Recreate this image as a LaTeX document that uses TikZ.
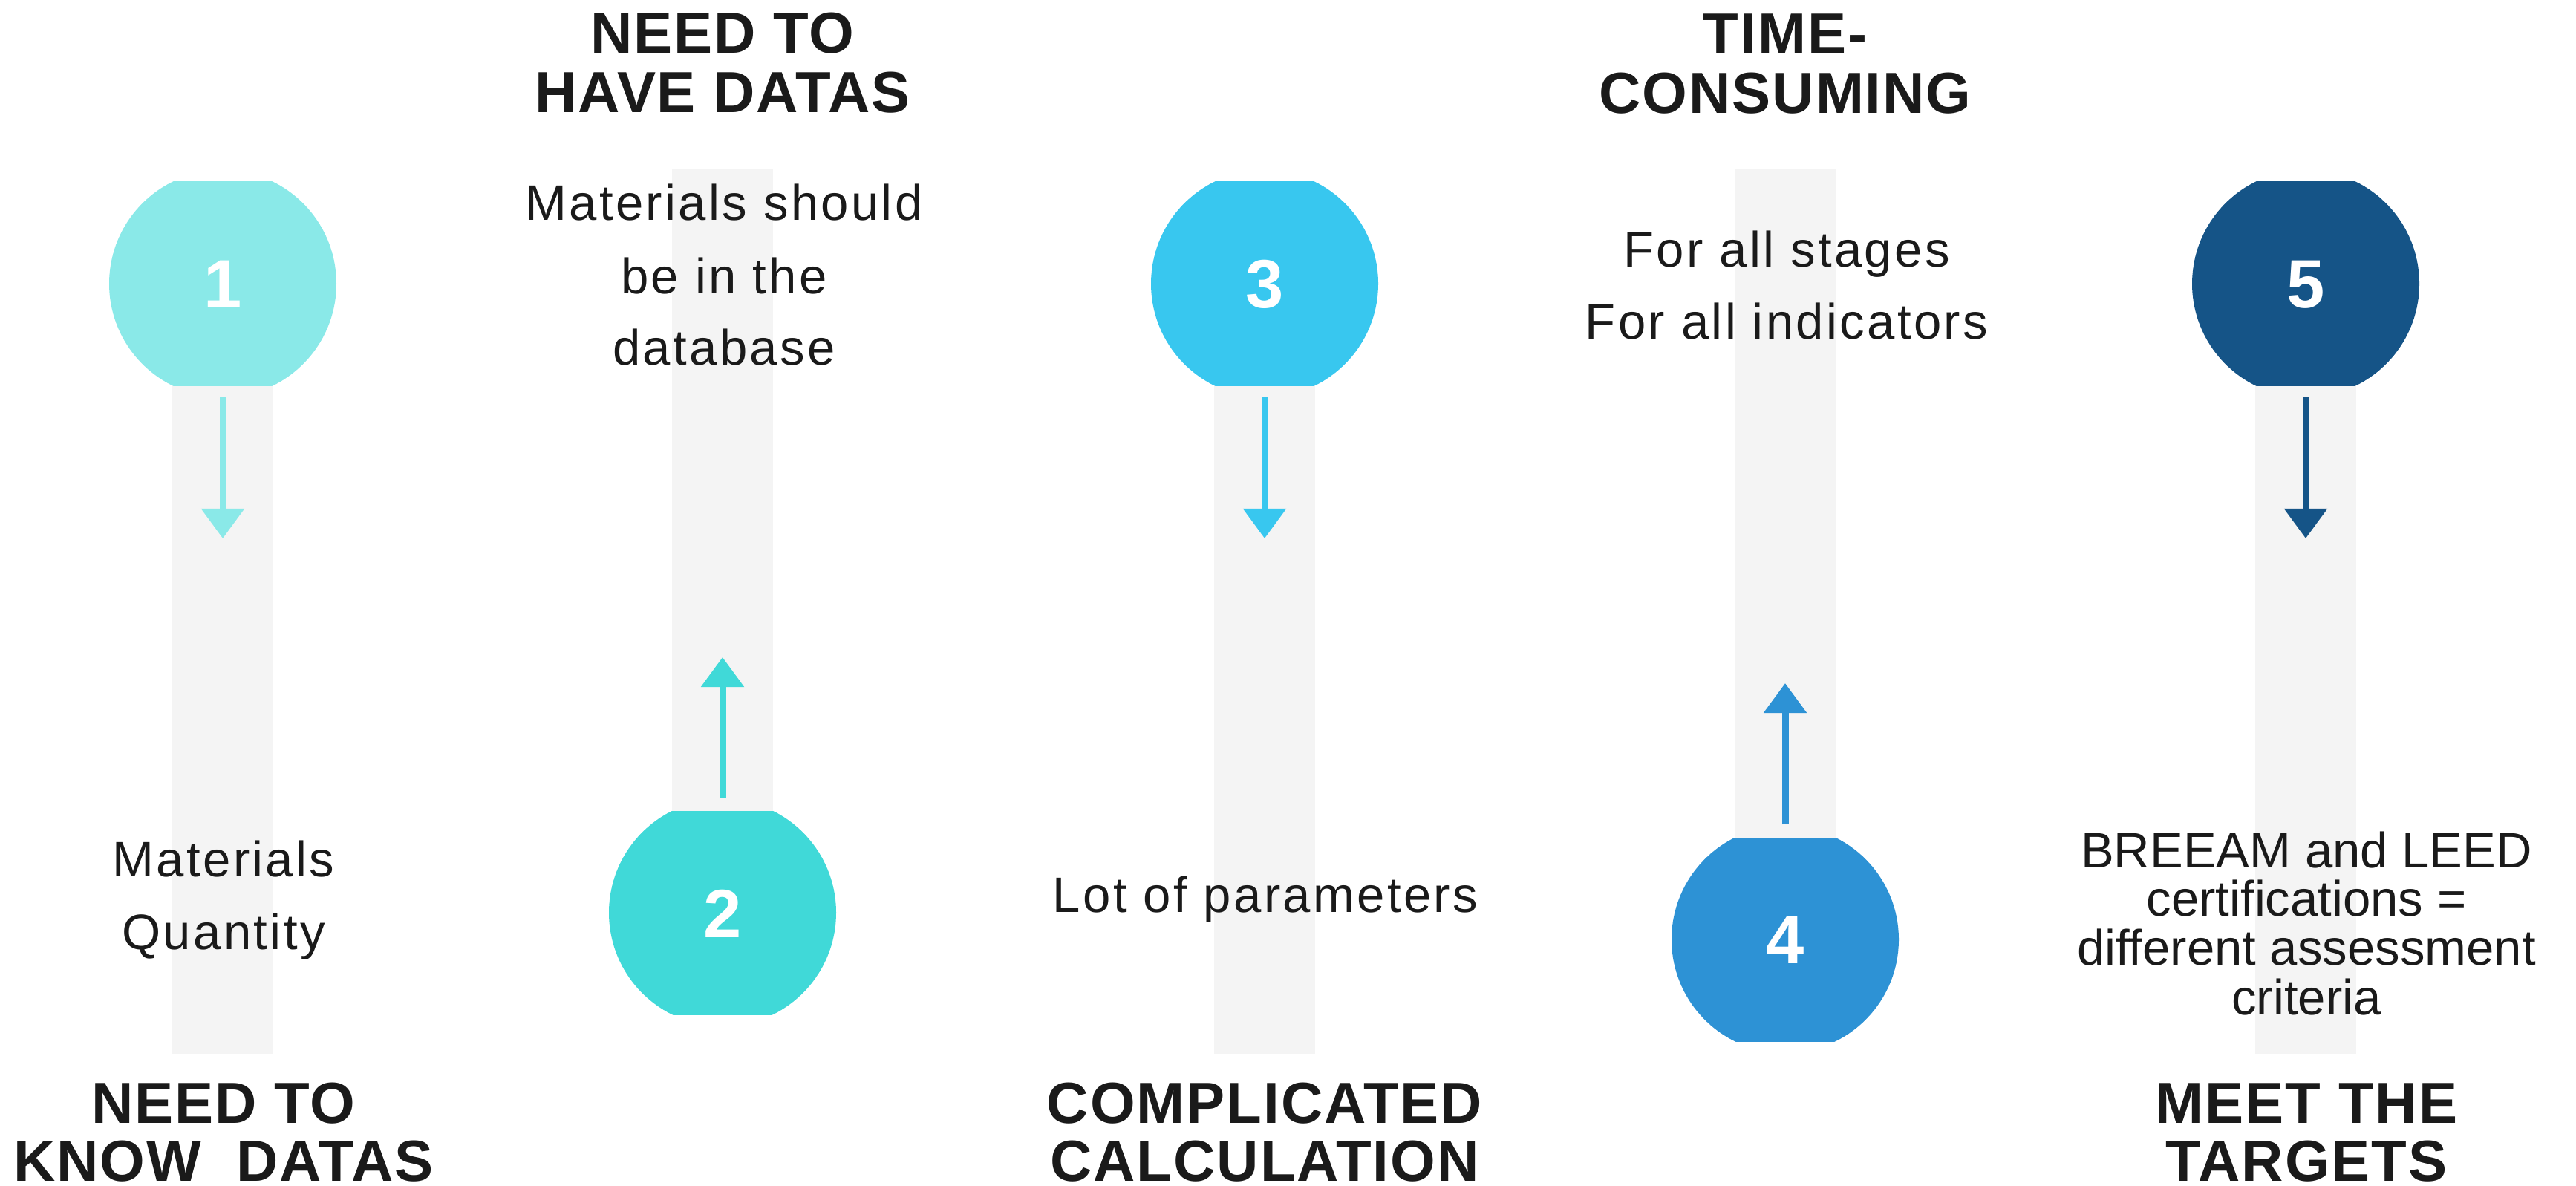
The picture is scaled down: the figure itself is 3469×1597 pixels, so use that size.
\documentclass[tikz,border=0pt]{standalone}
\usepackage{fontspec}
\setmainfont{Liberation Sans}
\newfontfamily\bodyfont[LetterSpace=5]{Liberation Sans}
\newfontfamily\bodyfontplain{Liberation Sans}
\newfontfamily\titlefont[LetterSpace=2.5]{Liberation Sans}
\usetikzlibrary{arrows.meta}
\definecolor{colA}{HTML}{8AE9E8}
\definecolor{colB}{HTML}{40D9D8}
\definecolor{colC}{HTML}{38C7EF}
\definecolor{colD}{HTML}{2D92D5}
\definecolor{colE}{HTML}{155487}
\definecolor{barc}{HTML}{F4F4F4}
\definecolor{txt}{HTML}{1A1A1A}
\tikzset{
  bodytxt/.style={font=\bodyfont\fontsize{19.07}{27.9}\selectfont, text=txt, inner sep=0pt, anchor=base},
  bodytxtplain/.style={font=\bodyfontplain\fontsize{19.07}{27.9}\selectfont, text=txt, inner sep=0pt, anchor=base},
  titletxt/.style={font=\titlefont\bfseries\fontsize{22.2}{22.8}\selectfont, text=txt, inner sep=0pt, anchor=base},
  digit/.style={font=\bfseries\fontsize{26.2}{26.2}\selectfont, text=white, inner sep=0pt, anchor=center},
  arr/.style={line width=0.09cm, -{Triangle[width=0.56cm,length=0.40cm]}},
}
\newcommand{\topball}[3]{% x, color, name
  \fill[barc] (#1-68,519) rectangle (#1+68,1419);
  \begin{scope}
    \clip (#1-160,245) rectangle (#1+160,519);
    \fill[#2] (#1,382) circle[radius=153];
  \end{scope}
  \coordinate (#3s) at (#1,535);
  \coordinate (#3e) at (#1,725);
  \draw[arr,#2] (#3s) -- (#3e);
}
\begin{document}
\begin{tikzpicture}[x=0.01cm,y=-0.01cm]
\useasboundingbox (0,0) rectangle (3469,1597);
\fill[white] (0,0) rectangle (3469,1597);

% column 1
\topball{300}{colA}{aA}
\node[digit] (d1) at (300,383) {1};
\node[bodytxt] (t1a) at (301,1180) {Materials};
\node[bodytxt] (t1b) at (301,1278) {Quantity};
\node[titletxt] (h1a) at (301,1512) {NEED TO};
\node[titletxt] (h1b) at (301,1590) {KNOW\ \ DATAS};

% column 2
\fill[barc] (973-68,227) rectangle (973+68,1092);
\begin{scope}
  \clip (973-160,1092) rectangle (973+160,1366);
  \fill[colB] (973,1229) circle[radius=153];
\end{scope}
\node[digit] (d2) at (973,1230) {2};
\coordinate (aBs) at (973,1075);
\coordinate (aBe) at (973,885);
\draw[arr,colB] (aBs) -- (aBe);
\node[titletxt] (h2a) at (973,72) {NEED TO};
\node[titletxt] (h2b) at (973,152) {HAVE DATAS};
\node[bodytxt] (t2a) at (975,296) {Materials should};
\node[bodytxt] (t2b) at (975,395) {be in the};
\node[bodytxt] (t2c) at (975,491) {database};

% column 3
\topball{1703}{colC}{aC}
\node[digit] (d3) at (1703,383) {3};
\node[bodytxt] (t3a) at (1704,1228) {Lot of parameters};
\node[titletxt] (h3a) at (1703,1512) {COMPLICATED};
\node[titletxt] (h3b) at (1703,1590) {CALCULATION};

% column 4
\fill[barc] (2404-68,228) rectangle (2404+68,1128);
\begin{scope}
  \clip (2404-160,1128) rectangle (2404+160,1402);
  \fill[colD] (2404,1265) circle[radius=153];
\end{scope}
\node[digit] (d4) at (2404,1266) {4};
\coordinate (aDs) at (2404,1110);
\coordinate (aDe) at (2404,920);
\draw[arr,colD] (aDs) -- (aDe);
\node[titletxt] (h4a) at (2404,73) {TIME-};
\node[titletxt] (h4b) at (2404,153) {CONSUMING};
\node[bodytxt] (t4a) at (2406,359) {For all stages};
\node[bodytxt] (t4b) at (2406,456) {For all indicators};

% column 5
\topball{3105}{colE}{aE}
\node[digit] (d5) at (3105,383) {5};
\node[bodytxtplain] (t5a) at (3106,1168) {BREEAM and LEED};
\node[bodytxtplain] (t5b) at (3106,1233) {certifications =};
\node[bodytxtplain] (t5c) at (3106,1299) {different assessment};
\node[bodytxtplain] (t5d) at (3106,1366) {criteria};
\node[titletxt] (h5a) at (3106,1512) {MEET THE};
\node[titletxt] (h5b) at (3106,1590) {TARGETS};
\end{tikzpicture}
\end{document}
